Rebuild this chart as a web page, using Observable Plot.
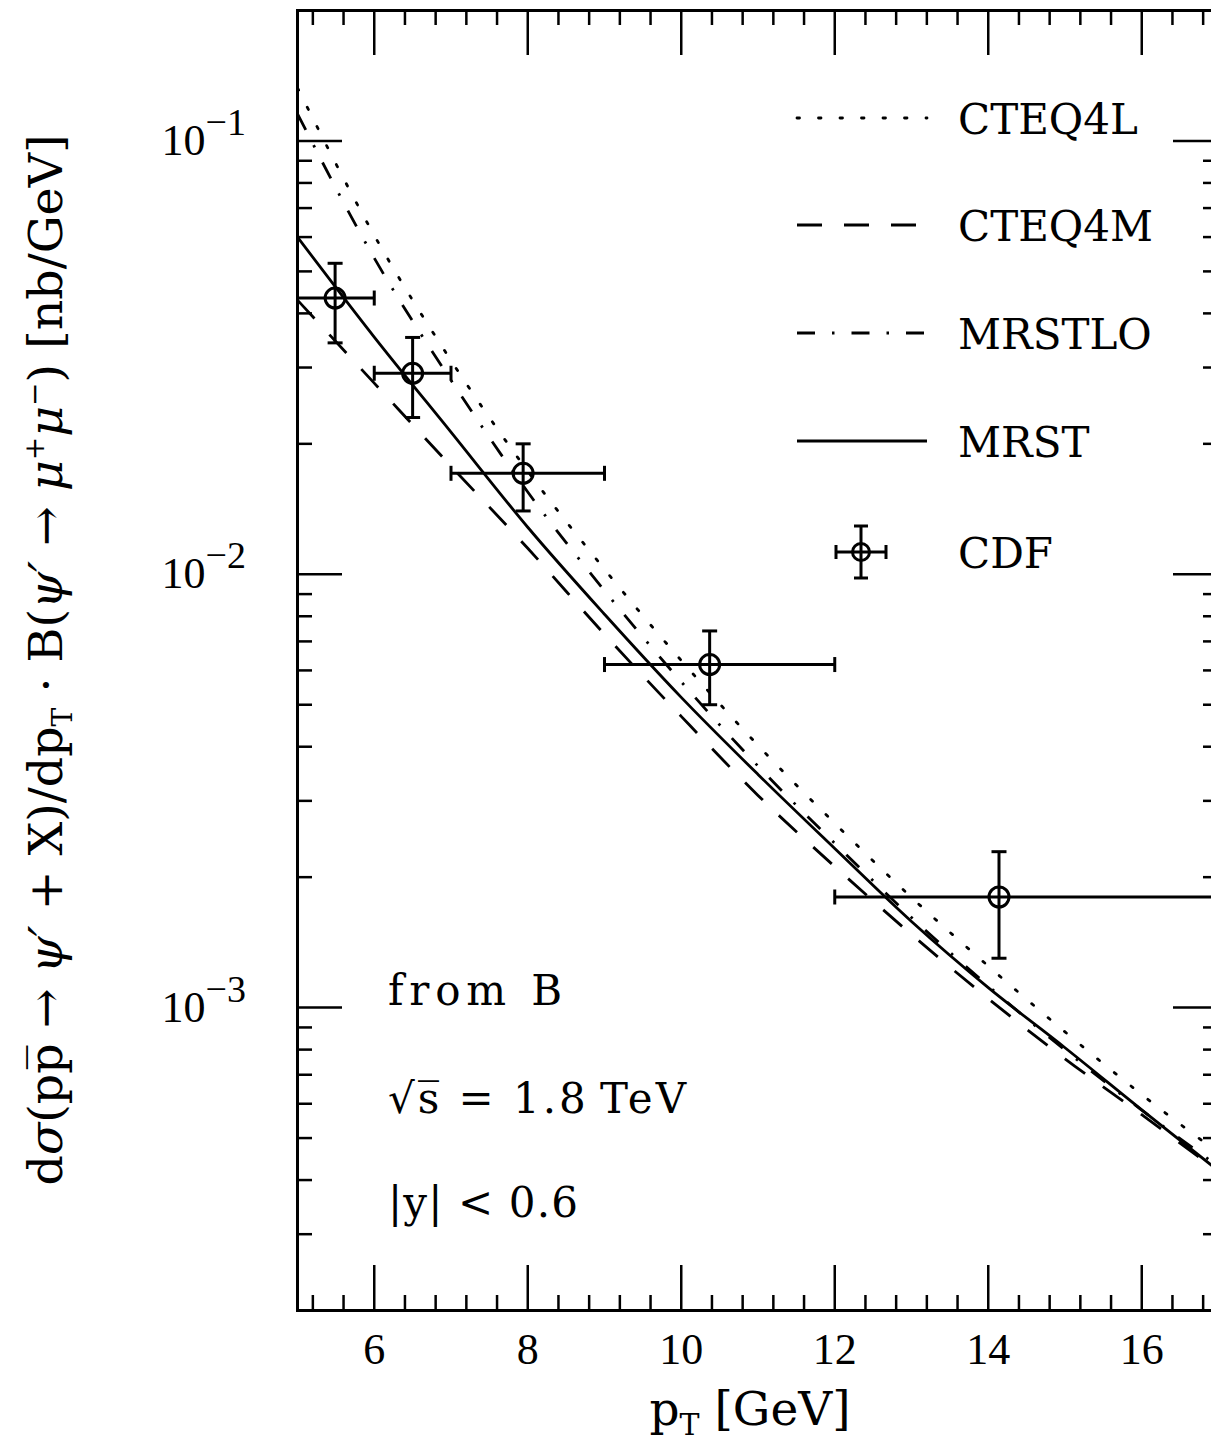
<!DOCTYPE html>
<html><head><meta charset="utf-8">
<script src="https://cdn.jsdelivr.net/npm/d3@7"></script>
<script src="https://cdn.jsdelivr.net/npm/@observablehq/plot@0.6"></script>
<style>
html,body{margin:0;padding:0;background:#fff;overflow:hidden;}
#wrap{position:relative;width:1211px;height:1442px;overflow:hidden;background:#fff;}
#wrap svg{max-width:none !important;display:block;}
</style></head><body><div id="wrap"></div>
<script>
// ---- data ----
const pT      = [5, 6, 7, 8, 9, 10, 11, 12, 13, 14, 15, 16, 17];
const cteq4l  = [0.1326, 0.06057, 0.03115, 0.01729, 0.01027, 0.006325, 0.004029, 0.002662, 0.001796, 0.001247, 0.000879, 0.000630, 0.000462];
const cteq4m  = [0.04293, 0.02761, 0.01776, 0.01148, 0.007270, 0.004700, 0.003088, 0.002116, 0.001475, 0.001049, 0.000762, 0.000566, 0.000418];
const mrstlo  = [0.1155, 0.05367, 0.02805, 0.01548, 0.009167, 0.005649, 0.003609, 0.002395, 0.001615, 0.001122, 0.000798, 0.000580, 0.000430];
const mrst    = [0.0600, 0.03527, 0.02128, 0.01284, 0.008086, 0.005199, 0.003452, 0.002329, 0.001580, 0.001112, 0.000808, 0.000581, 0.000420];

const cdfX    = [5.49, 6.50, 7.94, 10.37, 14.14];
const cdfXLo  = [5, 6, 7, 9, 12];
const cdfXHi  = [6, 7, 9, 12, 20];
const cdfY    = [0.0434, 0.0291, 0.0171, 0.00619, 0.00180];
const cdfYLo  = [0.0342, 0.0230, 0.0140, 0.00500, 0.00130];
const cdfYHi  = [0.0522, 0.0352, 0.0200, 0.00740, 0.00229];

const seriesNames = ["CTEQ4L", "CTEQ4M", "MRSTLO", "MRST"];
const seriesDash  = ["2.5,19", "25,22", "18,17,2.5,17", null];

const xMajor = [6, 8, 10, 12, 14, 16];
const xMinor = [5.2, 5.6, 6.4, 6.8, 7.2, 7.6, 8.4, 8.8, 9.2, 9.6, 10.4, 10.8, 11.2, 11.6, 12.4, 12.8, 13.2, 13.6, 14.4, 14.8, 15.2, 15.6, 16.4, 16.8];
const yMajor = [1e-3, 1e-2, 1e-1];
const yExpLabels = ["−3", "−2", "−1"];
const yMinor = [2e-4, 3e-4, 4e-4, 5e-4, 6e-4, 7e-4, 8e-4, 9e-4,
                2e-3, 3e-3, 4e-3, 5e-3, 6e-3, 7e-3, 8e-3, 9e-3,
                2e-2, 3e-2, 4e-2, 5e-2, 6e-2, 7e-2, 8e-2, 9e-2];

// ---- build tables ----
const curves = [cteq4l, cteq4m, mrstlo, mrst].map((vals, k) =>
  pT.map((x, i) => ({x, y: vals[i], name: seriesNames[k]})));
const cdf = cdfX.map((x, i) => ({x, y: cdfY[i], x1: cdfXLo[i], x2: cdfXHi[i], y1: cdfYLo[i], y2: cdfYHi[i]}));

const W = 1240, H = 1442, mL = 297, mR = 22, mT = 10, mB = 132;
const pw = W - mL - mR, ph = H - mT - mB;
const SERIF = "DejaVu Serif";

const capH = {draw(ctx, size) { const r = Math.sqrt(size / Math.PI); ctx.moveTo(-r, 0); ctx.lineTo(r, 0); }};
const capV = {draw(ctx, size) { const r = Math.sqrt(size / Math.PI); ctx.moveTo(0, -r); ctx.lineTo(0, r); }};

const marks = [];
curves.forEach((c, k) => {
  marks.push(Plot.line(c, {x: "x", y: "y", stroke: "black", strokeWidth: 2.8,
    strokeDasharray: seriesDash[k] || undefined, curve: "monotone-x", clip: true,
    strokeLinecap: k === 0 ? "round" : "butt"}));
});
marks.push(
  Plot.ruleY(cdf, {y: "y", x1: "x1", x2: "x2", stroke: "black", strokeWidth: 3, clip: true}),
  Plot.ruleX(cdf, {x: "x", y1: "y1", y2: "y2", stroke: "black", strokeWidth: 3}),
  Plot.dot(cdf, {x: "x", y: "y1", symbol: capH, r: 7.5, stroke: "black", strokeWidth: 3}),
  Plot.dot(cdf, {x: "x", y: "y2", symbol: capH, r: 7.5, stroke: "black", strokeWidth: 3}),
  Plot.dot(cdf.filter(d => d.x1 > 5), {x: "x1", y: "y", symbol: capV, r: 7.5, stroke: "black", strokeWidth: 3}),
  Plot.dot(cdf.filter(d => d.x2 < 17), {x: "x2", y: "y", symbol: capV, r: 7.5, stroke: "black", strokeWidth: 3}),
  Plot.dot(cdf, {x: "x", y: "y", r: 10, stroke: "black", strokeWidth: 3, fill: "none"}),
  // ticks (inward)
  Plot.tickX(xMajor, {x: d => d, insetTop: ph - 45, stroke: "black", strokeWidth: 2.5}),
  Plot.tickX(xMinor, {x: d => d, insetTop: ph - 15, stroke: "black", strokeWidth: 2.5}),
  Plot.tickX(xMajor, {x: d => d, insetBottom: ph - 45, stroke: "black", strokeWidth: 2.5}),
  Plot.tickX(xMinor, {x: d => d, insetBottom: ph - 15, stroke: "black", strokeWidth: 2.5}),
  Plot.tickY(yMajor, {y: d => d, insetRight: pw - 45, stroke: "black", strokeWidth: 2.5}),
  Plot.tickY(yMinor, {y: d => d, insetRight: pw - 15, stroke: "black", strokeWidth: 2.5}),
  Plot.tickY(yMajor, {y: d => d, insetLeft: pw - 45, stroke: "black", strokeWidth: 2.5}),
  Plot.tickY(yMinor, {y: d => d, insetLeft: pw - 15, stroke: "black", strokeWidth: 2.5}),
  Plot.frame({stroke: "black", strokeWidth: 3}),
  // tick labels
  Plot.axisX({ticks: xMajor, anchor: "bottom", tickSize: 0, tickPadding: 22, label: null,
    fontSize: 44, fontFamily: "Liberation Serif", tickFormat: d => String(d)}),
  Plot.axisY({ticks: yMajor, anchor: "left", tickSize: 0, tickPadding: 92, label: null,
    fontSize: 44, fontFamily: "Liberation Serif", tickFormat: () => "10"}),
  Plot.text(yMajor, {y: d => d, frameAnchor: "left", text: (d, i) => yExpLabels[i], dx: -92, dy: -18,
    textAnchor: "start", fontSize: 38, fontFamily: "Liberation Serif", fill: "black"})
);

const chart = Plot.plot({
  width: W, height: H,
  marginLeft: mL, marginRight: mR, marginTop: mT, marginBottom: mB,
  x: {domain: [5, 17]},
  y: {type: "log", domain: [2e-4, 0.2]},
  style: {background: "white", color: "black", overflow: "visible", maxWidth: "none"},
  marks
});
chart.style.maxWidth = "none";
document.getElementById("wrap").appendChild(chart);

// ---- overlays: legend, annotations, axis titles ----
const svg = d3.select(chart);
const g = svg.append("g").attr("fill", "black").attr("text-anchor", "start");

const legendRows = [118, 225, 333, 441, 552];
seriesNames.forEach((name, k) => {
  const yy = legendRows[k];
  const ln = g.append("line").attr("x1", 797).attr("x2", 927).attr("y1", yy).attr("y2", yy)
    .attr("stroke", "black").attr("stroke-width", 2.8);
  if (seriesDash[k]) ln.attr("stroke-dasharray", seriesDash[k]);
  if (k === 0) ln.attr("stroke-linecap", "round");
  g.append("text").attr("x", 958).attr("y", yy + 16).attr("font-family", SERIF)
    .attr("text-anchor", "start").attr("font-size", 42).text(name);
});
{
  const yy = legendRows[4], xx = 861;
  const m = g.append("g").attr("stroke", "black").attr("stroke-width", 3).attr("fill", "none");
  m.append("line").attr("x1", xx - 25).attr("x2", xx + 25).attr("y1", yy).attr("y2", yy);
  m.append("line").attr("x1", xx).attr("x2", xx).attr("y1", yy - 26).attr("y2", yy + 26);
  [-25, 25].forEach(o => m.append("line").attr("x1", xx + o).attr("x2", xx + o).attr("y1", yy - 7).attr("y2", yy + 7));
  [-26, 26].forEach(o => m.append("line").attr("x1", xx - 7).attr("x2", xx + 7).attr("y1", yy + o).attr("y2", yy + o));
  m.append("circle").attr("cx", xx).attr("cy", yy).attr("r", 8.5);
  g.append("text").attr("x", 958).attr("y", yy + 16).attr("font-family", SERIF)
    .attr("text-anchor", "start").attr("font-size", 42).text("CDF");
}

// annotations
const ann = [["from B", 1005, 174], ["√s\u0305 = 1.8\u2009TeV", 1113, 298], ["|y| < 0.6", 1217, 190]];
ann.forEach(([t, yy, len]) => {
  g.append("text").attr("x", 388).attr("y", yy).attr("font-family", SERIF)
    .attr("text-anchor", "start").attr("font-size", 42)
    .attr("textLength", len).attr("lengthAdjust", "spacing").text(t);
});

// x axis title
{
  const t = g.append("text").attr("x", 750).attr("y", 1425).attr("text-anchor", "middle")
    .attr("font-family", SERIF).attr("font-size", 47);
  t.append("tspan").text("p");
  t.append("tspan").attr("font-size", 30).attr("dy", 10).text("T");
  t.append("tspan").attr("dy", -10).text(" [GeV]");
}

// y axis title (rotated)
{
  const gg = g.append("g").attr("transform", "translate(62,660) rotate(-90)");
  const t = gg.append("text").attr("text-anchor", "middle").attr("font-family", SERIF).attr("font-size", 42);
  const add = (s, o = {}) => {
    const ts = t.append("tspan").text(s);
    if (o.it) ts.attr("font-style", "italic");
    if (o.fs) ts.attr("font-size", o.fs);
    if (o.dy) ts.attr("dy", o.dy);
    return ts;
  };
  add("d"); add("σ", {it: 1}); add("(pp\u0305 → "); add("ψ′", {it: 1}); add(" + X)/dp");
  add("T", {fs: 28, dy: 10}); add(" · B(", {dy: -10}); add("ψ′", {it: 1}); add(" → ");
  add("μ", {it: 1}); add("+", {fs: 28, dy: -18}); add("μ", {it: 1, dy: 18}); add("−", {fs: 28, dy: -18});
  add(") [nb/GeV]", {dy: 18});
  const len = t.node().getComputedTextLength();
  if (len > 0) t.attr("font-size", 42 * 1060 / len);
}
</script></body></html>
